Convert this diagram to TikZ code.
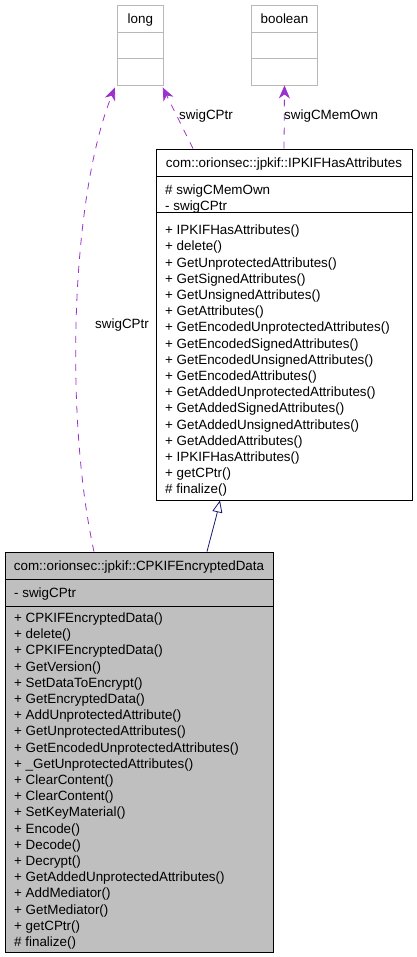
\documentclass[tikz,border=0pt]{standalone}
\usepackage{fontspec}
\setmainfont{Liberation Sans}
\usetikzlibrary{arrows.meta}
\definecolor{usecol}{HTML}{9A32CD}
\definecolor{inhcol}{HTML}{191970}
\definecolor{shadecol}{HTML}{BFBFBF}
\definecolor{edgegray}{HTML}{B8B8B8}

\begin{document}
\begin{tikzpicture}[x=1pt,y=-1pt,
  font=\fontsize{13.4}{16.2}\selectfont,
  part/.style={draw,rectangle,inner sep=0pt,line width=0.8pt},
  title/.style={part,text height=9.5pt,text depth=0pt},
  members/.style={anchor=north west,align=left,inner sep=0pt},
  uses/.style={draw=usecol,line width=0.8pt,dash pattern=on 7pt off 7pt,
    -{Stealth[length=13pt,width=11pt,inset=4pt,fill=usecol]}},
  inherits/.style={draw=inhcol,line width=0.8pt,
    -{Triangle[open,length=12pt,width=10pt,fill=white]}},
  lbl/.style={anchor=west,inner sep=0pt}]
  \useasboundingbox (0,0) rectangle (417,957);

  % type boxes
  \node [title,draw=edgegray,minimum width=46pt,minimum height=26.5pt] (longTitle) at (140.3,19) {long};
  \node [part,draw=edgegray,minimum width=46pt,minimum height=26pt] (longAttr) at (140.3,45.3) {};
  \node [part,draw=edgegray,minimum width=46pt,minimum height=26.7pt] (longOps) at (140.3,71.7) {};

  \node [title,draw=edgegray,minimum width=65.6pt,minimum height=26.5pt] (boolTitle) at (284.5,19) {boolean};
  \node [part,draw=edgegray,minimum width=65.6pt,minimum height=26pt] (boolAttr) at (284.5,45.3) {};
  \node [part,draw=edgegray,minimum width=65.6pt,minimum height=26.7pt] (boolOps) at (284.5,71.7) {};

  % base class
  \node [title,minimum width=256pt,minimum height=27pt] (ipkifTitle) at (284,162.5) {com::orionsec::jpkif::IPKIFHasAttributes};
  \node [part,minimum width=256pt,minimum height=36pt] (ipkifAttr) at (284,194) {};
  \node [part,minimum width=256pt,minimum height=288pt] (ipkifOps) at (284,356) {};
  \node [members] (ipkifAttrList) at (165,184.8) {\# swigCMemOwn\\- swigCPtr};
  \node [members] (ipkifOpsList) at (165,224.8) {+ IPKIFHasAttributes()\\+ delete()\\+ GetUnprotectedAttributes()\\+ GetSignedAttributes()\\+ GetUnsignedAttributes()\\+ GetAttributes()\\+ GetEncodedUnprotectedAttributes()\\+ GetEncodedSignedAttributes()\\+ GetEncodedUnsignedAttributes()\\+ GetEncodedAttributes()\\+ GetAddedUnprotectedAttributes()\\+ GetAddedSignedAttributes()\\+ GetAddedUnsignedAttributes()\\+ GetAddedAttributes()\\+ IPKIFHasAttributes()\\+ getCPtr()\\\# finalize()};

  % derived class
  \node [title,fill=shadecol,minimum width=268pt,minimum height=27pt] (cpkifTitle) at (139,565.5) {com::orionsec::jpkif::CPKIFEncryptedData};
  \node [part,fill=shadecol,minimum width=268pt,minimum height=27pt] (cpkifAttr) at (139,592.5) {};
  \node [part,fill=shadecol,minimum width=268pt,minimum height=346pt] (cpkifOps) at (139,779) {};
  \node [members] (cpkifAttrList) at (14,587.8) {- swigCPtr};
  \node [members] (cpkifOpsList) at (14,612.6) {+ CPKIFEncryptedData()\\+ delete()\\+ CPKIFEncryptedData()\\+ GetVersion()\\+ SetDataToEncrypt()\\+ GetEncryptedData()\\+ AddUnprotectedAttribute()\\+ GetUnprotectedAttributes()\\+ GetEncodedUnprotectedAttributes()\\+ \_GetUnprotectedAttributes()\\+ ClearContent()\\+ ClearContent()\\+ SetKeyMaterial()\\+ Encode()\\+ Decode()\\+ Decrypt()\\+ GetAddedUnprotectedAttributes()\\+ AddMediator()\\+ GetMediator()\\+ getCPtr()\\\# finalize()};

  % relations
  \draw [inherits] ([xshift=68pt]cpkifTitle.north) .. controls (211,536) and (216,518) .. ([xshift=-64pt]ipkifOps.south);
  \draw [uses] ([xshift=-45pt]cpkifTitle.north) .. controls (65,420) and (70,200) .. ([xshift=-2pt,yshift=-2pt]longOps.south west);
  \draw [uses] ([xshift=-91pt]ipkifTitle.north) -- ([xshift=-1pt,yshift=-2pt]longOps.south east);
  \draw [uses] (ipkifTitle.north) -- (boolOps.south);

  \node [lbl] (ptrLabelA) at (95,325) {swigCPtr};
  \node [lbl] (ptrLabelB) at (179,116) {swigCPtr};
  \node [lbl] (ownLabel) at (284,116) {swigCMemOwn};
\end{tikzpicture}
\end{document}
